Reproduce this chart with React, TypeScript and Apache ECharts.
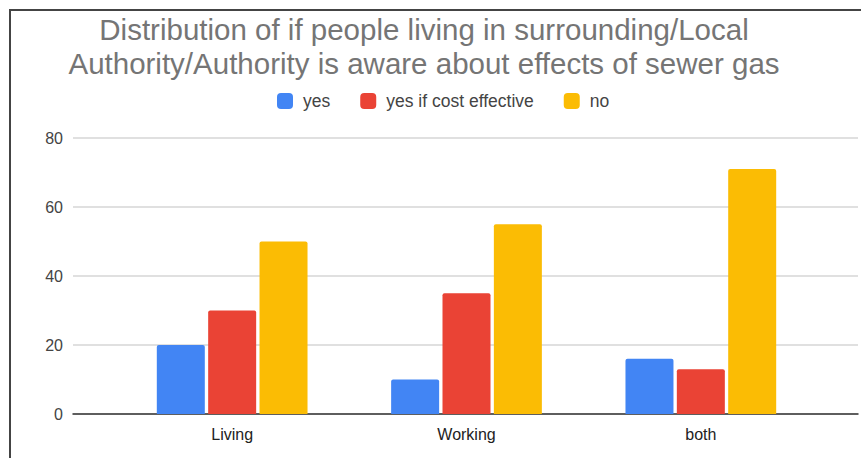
import React, { useEffect, useRef } from "react";
import * as echarts from "echarts";

const titleLines = [
  "Distribution of if people living in surrounding/Local",
  "Authority/Authority is aware about effects of sewer gas",
];
const categories = ["Living", "Working", "both"];
const seriesNames = ["yes", "yes if cost effective", "no"];
const yesValues = [20, 10, 16];
const costEffectiveValues = [30, 35, 13];
const noValues = [50, 55, 71];
const seriesColors = ["#4285F4", "#EA4335", "#FBBC04"];
const yTicks = { min: 0, max: 80, interval: 20 };

const FONT = "'Liberation Sans', Arial, sans-serif";

export default function App() {
  const ref = useRef<HTMLDivElement>(null);

  useEffect(() => {
    if (!ref.current) return;
    const chart = echarts.init(ref.current, null, { renderer: "svg" });
    const values = [yesValues, costEffectiveValues, noValues];

    chart.setOption({
      animation: false,
      backgroundColor: "#ffffff",
      textStyle: { fontFamily: FONT },
      title: {
        text: titleLines.join("\n"),
        left: 424,
        textAlign: "center",
        top: 12,
        padding: 0,
        textStyle: {
          fontFamily: FONT,
          fontSize: 29.5,
          lineHeight: 34,
          fontWeight: "normal",
          color: "#757575",
        },
      },
      legend: {
        data: seriesNames,
        left: 277,
        top: 92,
        padding: 0,
        itemWidth: 16,
        itemHeight: 16,
        itemGap: 30,
        icon: "roundRect",
        textStyle: {
          fontFamily: FONT,
          fontSize: 17.5,
          color: "#444444",
          padding: [0, 0, 0, 5],
        },
      },
      graphic: [
        {
          type: "polyline",
          shape: { points: [[10, 458], [10, 10], [861, 10]] },
          style: { stroke: "#444444", lineWidth: 2, fill: "none" },
          silent: true,
        },
      ],
      grid: [
        { left: 73, right: 3, top: 138, bottom: 44 },
        { left: 115, right: 43, top: 138, bottom: 44 },
      ],
      xAxis: [
        {
          type: "category",
          gridIndex: 0,
          data: categories,
          axisLine: { show: true, lineStyle: { color: "#333333", width: 1.5 } },
          axisTick: { show: false },
          axisLabel: { show: false },
          splitLine: { show: false },
        },
        {
          type: "category",
          gridIndex: 1,
          data: categories,
          axisLine: { show: false },
          axisTick: { show: false },
          axisLabel: {
            fontFamily: FONT,
            fontSize: 16,
            color: "#222222",
            margin: 12,
          },
        },
      ],
      yAxis: [
        {
          type: "value",
          gridIndex: 0,
          min: yTicks.min,
          max: yTicks.max,
          interval: yTicks.interval,
          axisLine: { show: false },
          axisTick: { show: false },
          axisLabel: {
            fontFamily: FONT,
            fontSize: 16,
            color: "#444444",
            margin: 10,
          },
          splitLine: { lineStyle: { color: "#d6d6d6", width: 1.5 } },
        },
        {
          type: "value",
          gridIndex: 1,
          min: yTicks.min,
          max: yTicks.max,
          interval: yTicks.interval,
          show: false,
          splitLine: { show: false },
        },
      ],
      series: seriesNames.map((name, i) => ({
        name,
        type: "bar",
        xAxisIndex: 1,
        yAxisIndex: 1,
        data: values[i],
        barWidth: 48,
        barGap: "7%",
        itemStyle: { color: seriesColors[i], borderRadius: [2, 2, 0, 0] },
      })),
    });

    return () => chart.dispose();
  }, []);

  return (
    <div
      ref={ref}
      style={{ position: "fixed", left: 0, top: 0, width: 861, height: 458 }}
    />
  );
}
